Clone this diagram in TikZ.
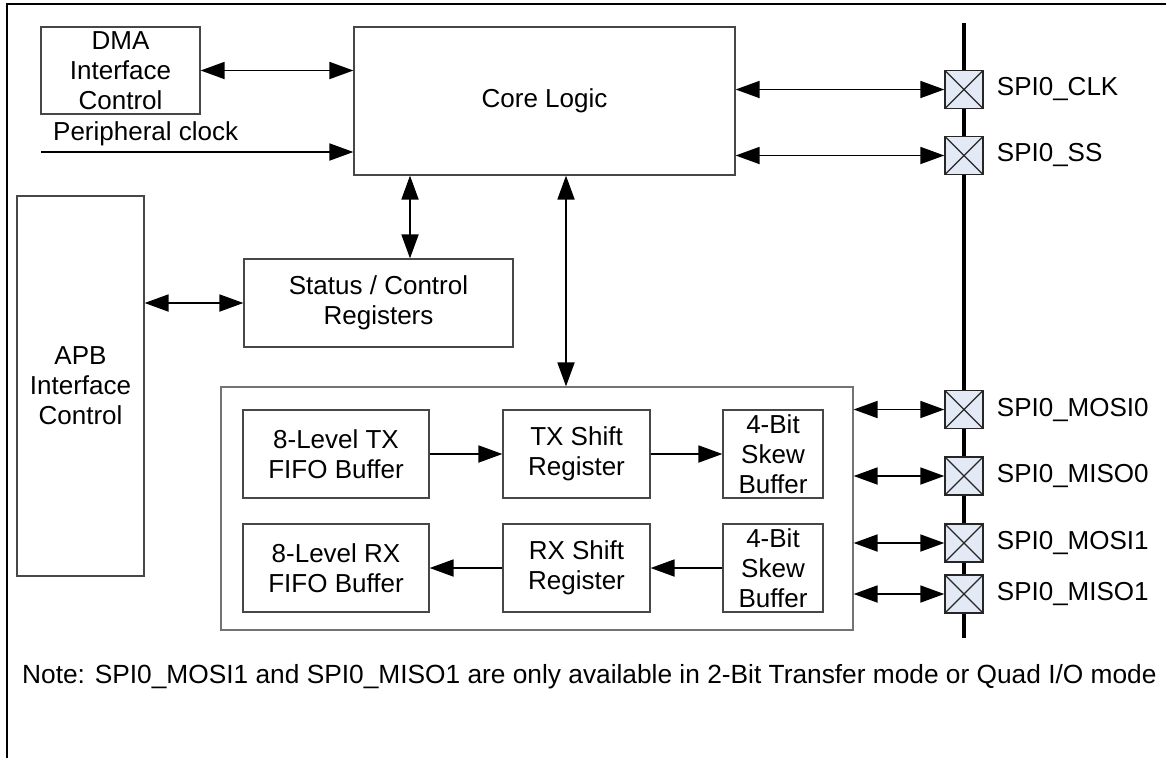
\documentclass[tikz,border=0pt]{standalone}
\usepackage{fontspec}
\setmainfont{Liberation Sans}
\usetikzlibrary{arrows.meta,positioning}
\definecolor{padfill}{HTML}{E3EAF5}
\tikzset{
  blk/.style={draw=black!72, line width=1.2pt, align=center, inner sep=0pt,
    font=\fontsize{26}{30}\selectfont},
  outerblk/.style={draw=black!55, line width=1.2pt, inner sep=0pt},
  conn/.style={line width=1.8pt, -{Triangle[length=24pt,width=17pt]}},
  bconn/.style={line width=1.8pt, {Triangle[length=24pt,width=17pt]}-{Triangle[length=24pt,width=17pt]}},
  pad/.style={draw=black!85, fill=padfill, line width=1.4pt, minimum size=38pt, inner sep=0pt,
    path picture={\draw[line width=1.1pt] (path picture bounding box.north west) -- (path picture bounding box.south east)
      (path picture bounding box.north east) -- (path picture bounding box.south west);}},
  lbl/.style={inner sep=0pt, font=\fontsize{26}{30}\selectfont},
  frame/.style={line width=2.6pt, black},
  bus/.style={line width=3.2pt, black}
}
\begin{document}
\begin{tikzpicture}[x=1pt,y=-1pt]
\useasboundingbox (0,0) rectangle (1166,758);
% outer frame (top and left)
\draw[frame] (7,758) -- (7,4) -- (1166,4);

% blocks
\node[blk, minimum width=159pt, minimum height=87pt] (dma) at (120.5,70.5) {DMA\\Interface\\Control};
\node[blk, minimum width=381pt, minimum height=148pt] (core) at (544.5,101) {Core Logic};
\node[blk, minimum width=127pt, minimum height=380pt] (apb) at (80.5,386) {APB\\Interface\\Control};
\node[blk, minimum width=269pt, minimum height=88pt] (stat) at (378.5,303) {Status / Control\\Registers};
\node[outerblk, minimum width=632pt, minimum height=243pt] (big) at (537,508.5) {};
\node[blk, minimum width=186pt, minimum height=88pt] (txf) at (336,454) {8-Level TX\\FIFO Buffer};
\node[blk, minimum width=147pt, minimum height=88pt] (txs) at (576.5,454) {TX Shift\\Register};
\node[blk, minimum width=100pt, minimum height=88pt] (txk) at (773,454) {4-Bit\\Skew\\Buffer};
\node[blk, minimum width=186pt, minimum height=88pt] (rxf) at (336,568) {8-Level RX\\FIFO Buffer};
\node[blk, minimum width=147pt, minimum height=88pt] (rxs) at (576.5,568) {RX Shift\\Register};
\node[blk, minimum width=100pt, minimum height=88pt] (rxk) at (773,568) {4-Bit\\Skew\\Buffer};

% peripheral clock
\node[lbl, anchor=west] (pclkl) at (53,134) {Peripheral clock};
\coordinate (pclk) at (41,152);
\draw[conn] (pclk) -- (pclk -| core.west);

% bus
\coordinate (bustop) at (964,23);
\coordinate (busbot) at (964,638);
\draw[bus] (bustop) -- (busbot);

% pads
\node[pad] (clk) at (964,89.5) {};
\node[pad] (ss) at (964,155.5) {};
\node[pad] (mosi0) at (964,409.5) {};
\node[pad] (miso0) at (964,476) {};
\node[pad] (mosi1) at (964,543) {};
\node[pad] (miso1) at (964,594) {};
\node[lbl, anchor=west] (clkl) at ([xshift=13pt]clk.east) {SPI0\_CLK};
\node[lbl, anchor=west] (ssl) at ([xshift=13pt]ss.east) {SPI0\_SS};
\node[lbl, anchor=west] (mosi0l) at ([xshift=13pt]mosi0.east) {SPI0\_MOSI0};
\node[lbl, anchor=west] (miso0l) at ([xshift=13pt]miso0.east) {SPI0\_MISO0};
\node[lbl, anchor=west] (mosi1l) at ([xshift=13pt]mosi1.east) {SPI0\_MOSI1};
\node[lbl, anchor=west] (miso1l) at ([xshift=13pt]miso1.east) {SPI0\_MISO1};

% connectors
\draw[bconn] (dma.east) -- (dma.east -| core.west);
\draw[bconn] (stat.west -| apb.east) -- (stat.west);
\coordinate (xa) at (410,0);
\coordinate (xb) at (566,0);
\draw[bconn] (xa |- core.south) -- (xa |- stat.north);
\draw[bconn] (xb |- core.south) -- (xb |- big.north);
\draw[bconn] (clk.west -| core.east) -- (clk.west);
\draw[bconn] (ss.west -| core.east) -- (ss.west);
\draw[bconn] (mosi0.west -| big.east) -- (mosi0.west);
\draw[bconn] (miso0.west -| big.east) -- (miso0.west);
\draw[bconn] (mosi1.west -| big.east) -- (mosi1.west);
\draw[bconn] (miso1.west -| big.east) -- (miso1.west);
\draw[conn] (txf) -- (txs);
\draw[conn] (txs) -- (txk);
\draw[conn] (rxk) -- (rxs);
\draw[conn] (rxs) -- (rxf);

% note
\node[lbl, anchor=west, font=\fontsize{26.3}{30}\selectfont] (note) at (22,677) {Note: SPI0\_MOSI1 and SPI0\_MISO1 are only available in 2-Bit Transfer mode or Quad I/O mode};
\end{tikzpicture}
\end{document}
